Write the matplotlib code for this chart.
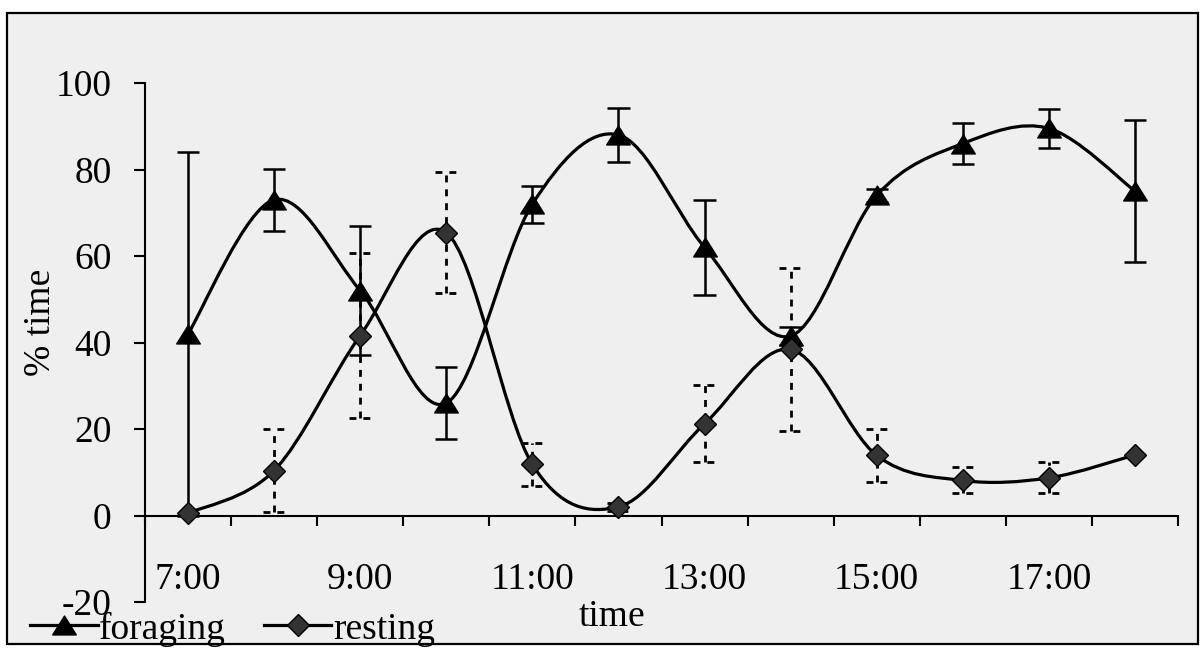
import numpy as np
import matplotlib
matplotlib.use("Agg")
import matplotlib.pyplot as plt
from matplotlib.path import Path
from matplotlib.patches import PathPatch, Rectangle
from matplotlib.lines import Line2D

# hourly observations
hours = ["7:00", "8:00", "9:00", "10:00", "11:00", "12:00",
         "13:00", "14:00", "15:00", "16:00", "17:00", "18:00"]
foraging = [42, 73, 52, 26, 72, 88, 62, 41.5, 74, 86, 89.5, 75]
foraging_err = [42, 7.2, 15, 8.4, 4.3, 6.3, 11, 2, 1.5, 4.7, 4.5, 16.4]
resting = [0.5, 10.4, 41.6, 65.4, 11.8, 2, 21.2, 38.4, 13.9, 8.1, 8.7, 14]
resting_err = [0, 9.7, 19, 14, 4.9, 1, 8.9, 18.8, 6.2, 3, 3.6, 0]
y_ticks = [-20, 0, 20, 40, 60, 80, 100]

FONT = "Liberation Serif"
FS = 27
plt.rcParams["font.family"] = [FONT, "DejaVu Serif"]

W, H = 1201, 652
fig = plt.figure(figsize=(W / 100, H / 100), dpi=100, facecolor="white")

# chart frame
fig.patches.append(Rectangle((7 / W, 1 - 644 / H), (1198 - 7) / W, (644 - 13) / H,
                             transform=fig.transFigure, facecolor="#efefef",
                             edgecolor="black", linewidth=1.6, zorder=-5))

ax = fig.add_axes([145 / W, 1 - 602 / H, (1178 - 145) / W, (602 - 83) / H])
ax.set_facecolor("none")
ax.set_zorder(1)

x = np.arange(len(hours), dtype=float)

# slightly flattened triangle marker
TRI = Path([(0, 0.8), (-1, -0.8), (1, -0.8), (0, 0.8)],
           [Path.MOVETO, Path.LINETO, Path.LINETO, Path.CLOSEPOLY])


def smooth_path(xs, ys):
    """Catmull-Rom style cubic Bezier through all points."""
    pts = np.column_stack([xs, ys]).astype(float)
    n = len(pts)
    verts = [pts[0]]
    codes = [Path.MOVETO]
    for i in range(n - 1):
        p0 = pts[max(i - 1, 0)]
        p1 = pts[i]
        p2 = pts[i + 1]
        p3 = pts[min(i + 2, n - 1)]
        c1 = p1 + (p2 - p0) / 6.0
        c2 = p2 - (p3 - p1) / 6.0
        verts += [c1, c2, p2]
        codes += [Path.CURVE4] * 3
    return Path(verts, codes)


def draw_errors(xs, ys, errs, style, lw, zorder):
    cap = 0.13
    for xi, yi, e in zip(xs, ys, errs):
        if e <= 0:
            continue
        lo, hi = yi - e, yi + e
        ax.vlines(xi, lo, hi, colors="black", linewidth=lw,
                  linestyles=style, zorder=zorder)
        ax.hlines([lo, hi], xi - cap, xi + cap, colors="black", linewidth=lw,
                  linestyles=style, zorder=zorder)


dotted = (0, (2.5, 2.5))
draw_errors(x, foraging, foraging_err, "solid", 1.8, 2)
draw_errors(x, resting, resting_err, dotted, 2.0, 2)

for series in (foraging, resting):
    ax.add_patch(PathPatch(smooth_path(x, series), facecolor="none",
                           edgecolor="black", linewidth=2.3, zorder=3,
                           capstyle="round"))

ax.plot(x, foraging, linestyle="none", marker=TRI, markersize=17,
        color="black", zorder=4)
ax.plot(x, resting, linestyle="none", marker="D", markersize=11.5,
        markerfacecolor="#333333", markeredgecolor="black", zorder=4)

# axes styling
ax.set_xlim(-0.5, len(hours) - 0.5)
ax.set_ylim(-20, 100)
for s in ("top", "right"):
    ax.spines[s].set_visible(False)
ax.spines["bottom"].set_position(("data", 0))
ax.spines["left"].set_linewidth(1.5)
ax.spines["bottom"].set_linewidth(1.5)

ax.set_yticks(y_ticks)
ax.set_yticklabels([str(v) for v in y_ticks])
ax.tick_params(axis="y", direction="out", length=8, width=1.5, pad=16,
               labelsize=FS)

ax.set_xticks(np.arange(len(hours) + 1) - 0.5)
ax.set_xticklabels([])
ax.tick_params(axis="x", which="major", direction="out", length=7, width=1.5)
ax.set_xticks(x, minor=True)
ax.set_xticklabels([h if i % 2 == 0 else "" for i, h in enumerate(hours)],
                   minor=True)
ax.tick_params(axis="x", which="minor", length=0, pad=34, labelsize=FS)

ax.set_xlabel("time", fontsize=FS, va="center")
ax.xaxis.set_label_coords((612 - 145) / (1178 - 145), (602 - 617) / (602 - 83))
ax.set_ylabel("% time", fontsize=FS, va="center")
ax.yaxis.set_label_coords((41 - 145) / (1178 - 145), (602 - 322) / (602 - 83))

handles = [
    Line2D([], [], color="black", linewidth=2.3, marker=TRI, markersize=17),
    Line2D([], [], color="black", linewidth=2.3, marker="D", markersize=11.5,
           markerfacecolor="#333333", markeredgecolor="black"),
]
fig.legend(handles, ["foraging", "resting"], loc="center left",
           bbox_to_anchor=(30 / W, 1 - 629 / H), ncol=2, frameon=False,
           fontsize=FS, handlelength=1.8, handletextpad=0.05,
           columnspacing=1.0, borderpad=0, borderaxespad=0)

fig.savefig("out.png", dpi=100, facecolor=fig.get_facecolor())
